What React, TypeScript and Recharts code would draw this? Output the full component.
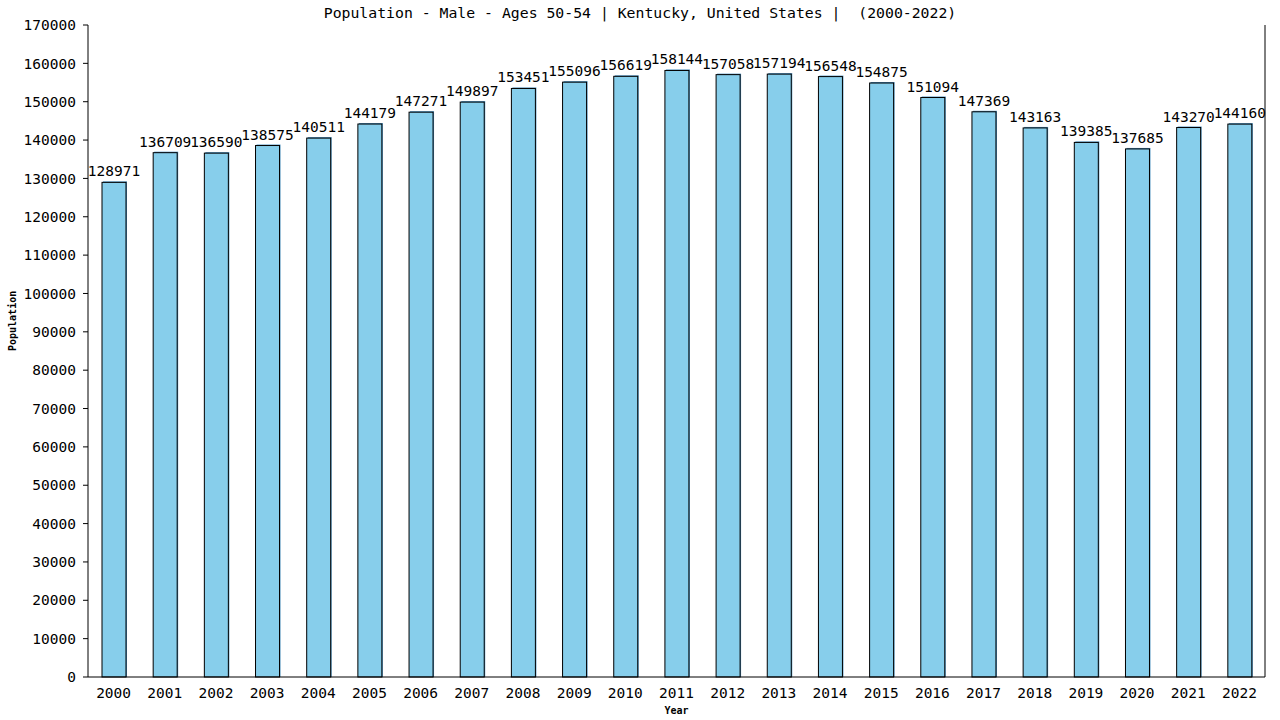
import { BarChart, Bar, XAxis, YAxis, LabelList } from 'recharts'

const years = [
    '2000', '2001', '2002', '2003', '2004', '2005', '2006', '2007', '2008', '2009', '2010', '2011',
    '2012', '2013', '2014', '2015', '2016', '2017', '2018', '2019', '2020', '2021', '2022',
]
const population = [
    128971, 136709, 136590, 138575, 140511, 144179, 147271, 149897, 153451, 155096, 156619, 158144,
    157058, 157194, 156548, 154875, 151094, 147369, 143163, 139385, 137685, 143270, 144160,
]
const yTicks = [
    0, 10000, 20000, 30000, 40000, 50000, 60000, 70000, 80000, 90000, 100000, 110000, 120000,
    130000, 140000, 150000, 160000, 170000,
]

const data = years.map((year, i) => ({ year, value: population[i] }))

const FONT = "'DejaVu Sans Mono', monospace"

const ShadowBar = (props: any) => {
    const { x, y, width, height } = props
    return (
        <g>
            <rect x={x + 1} y={y - 1} width={width} height={height + 1} fill='#4f93c0' />
            <rect x={x} y={y} width={width} height={height} fill='#87CEEB' stroke='#000' strokeWidth={1} />
        </g>
    )
}

export default function App() {
    return (
        <div style={{ position: 'absolute', left: 0, top: 0, width: 1280, height: 720, background: '#fff' }}>
            <div
                style={{
                    position: 'absolute',
                    left: 0,
                    top: 4,
                    width: 1280,
                    textAlign: 'center',
                    fontFamily: FONT,
                    fontSize: 14.8,
                    whiteSpace: 'pre',
                    color: '#000',
                }}
            >
                {'Population - Male - Ages 50-54 | Kentucky, United States |  (2000-2022)'}
            </div>
            <BarChart
                width={1280}
                height={720}
                data={data}
                barSize={24}
                margin={{ top: 25, right: 14, left: 0, bottom: 0 }}
            >
                <XAxis
                    dataKey='year'
                    height={43}
                    tickLine={false}
                    axisLine={{ stroke: '#000' }}
                    tickMargin={5}
                    interval={0}
                    tick={{ fill: '#000', fontFamily: FONT, fontSize: 14.5 }}
                    label={{
                        value: 'Year',
                        position: 'insideBottom',
                        offset: 6,
                        fill: '#000',
                        fontFamily: FONT,
                        fontSize: 10,
                        fontWeight: 'bold',
                    }}
                />
                <YAxis
                    width={88}
                    domain={[0, 170000]}
                    ticks={yTicks}
                    interval={0}
                    tickSize={5}
                    tickMargin={7}
                    axisLine={{ stroke: '#000' }}
                    tickLine={{ stroke: '#000' }}
                    tick={{ fill: '#000', fontFamily: FONT, fontSize: 14.5 }}
                    label={{
                        value: 'Population',
                        angle: -90,
                        position: 'insideLeft',
                        offset: 12,
                        fill: '#000',
                        fontFamily: FONT,
                        fontSize: 10,
                        fontWeight: 'bold',
                    }}
                />
                <YAxis
                    yAxisId='right'
                    orientation='right'
                    width={1}
                    domain={[0, 1]}
                    ticks={[0, 1]}
                    tick={false}
                    tickLine={false}
                    axisLine={{ stroke: '#000' }}
                />
                <Bar dataKey='value' shape={ShadowBar} isAnimationActive={false}>
                    <LabelList
                        dataKey='value'
                        position='top'
                        offset={6}
                        fill='#000'
                        fontFamily={FONT}
                        fontSize={14.5}
                    />
                </Bar>
            </BarChart>
        </div>
    )
}
